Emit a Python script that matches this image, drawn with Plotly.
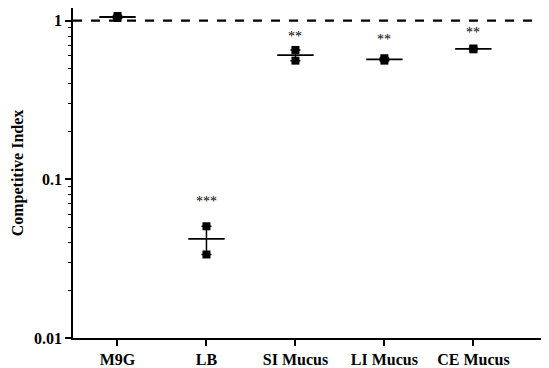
import plotly.graph_objects as go
import numpy as np

categories = ["M9G", "LB", "SI Mucus", "LI Mucus", "CE Mucus"]
rep1 = [1.04, 0.0506, 0.654, 0.560, 0.660]
rep2 = [1.07, 0.0336, 0.560, 0.580, 0.668]
stars = ["", "***", "**", "**", "**"]
star_y = [None, 0.0724, 0.79, 0.756, 0.845]

xpos = list(range(len(categories)))
means = [(a + b) / 2 for a, b in zip(rep1, rep2)]
sem = [abs(a - b) / 2 for a, b in zip(rep1, rep2)]

font_family = "Liberation Serif"
fig = go.Figure()

# individual replicate points
fig.add_trace(go.Scatter(
    x=xpos + xpos, y=rep1 + rep2, mode="markers",
    marker=dict(symbol="square", size=8, color="black"),
    showlegend=False, cliponaxis=False))

# mean line with SEM error bars
fig.add_trace(go.Scatter(
    x=xpos, y=means, mode="markers",
    marker=dict(symbol="line-ew-open", size=26, color="black",
                line=dict(color="black", width=1.8)),
    error_y=dict(type="data", symmetric=True, array=sem, color="black", thickness=1.5, width=5),
    showlegend=False, cliponaxis=False))

# reference dashed line at 1
fig.add_shape(type="line", xref="paper", yref="y", x0=0, x1=1, y0=1, y1=1,
              line=dict(color="black", width=2.2, dash="dash"))

for xi, s, sy in zip(xpos, stars, star_y):
    if s:
        fig.add_annotation(x=xi, y=np.log10(sy), text=s, showarrow=False,
                           font=dict(family=font_family, size=14, color="black"))

fig.update_layout(
    width=541, height=360,
    margin=dict(l=65, r=0, t=0, b=30),
    plot_bgcolor="white", paper_bgcolor="white",
    font=dict(family=font_family, color="black"),
)
fig.update_xaxes(
    range=[-0.5, 4.85], tickvals=xpos, ticktext=[f"<b>{c}</b>" for c in categories],
    showline=True, linecolor="black", linewidth=1.5, ticks="outside", ticklen=6,
    tickwidth=1.5, tickcolor="black", showgrid=False, zeroline=False,
    tickfont=dict(family=font_family, size=16, color="black"))
fig.update_yaxes(
    type="log", range=[-2, 0.08],
    tickvals=[0.01, 0.1, 1], ticktext=["<b>0.01</b>", "<b>0.1</b>", "<b>1</b>"],
    showline=True, linecolor="black", linewidth=1.5, ticks="outside", ticklen=6,
    tickwidth=1.5, tickcolor="black", showgrid=False, zeroline=False,
    minor=dict(ticks="outside", ticklen=3, tickcolor="black", tickwidth=1,
               tickvals=[m * d for d in [0.01, 0.1] for m in range(2, 10)]),
    tickfont=dict(family=font_family, size=16, color="black"),
    title=dict(text="<b>Competitive Index</b>", font=dict(family=font_family, size=16, color="black"),
               standoff=6))

fig.write_html("out.html")
